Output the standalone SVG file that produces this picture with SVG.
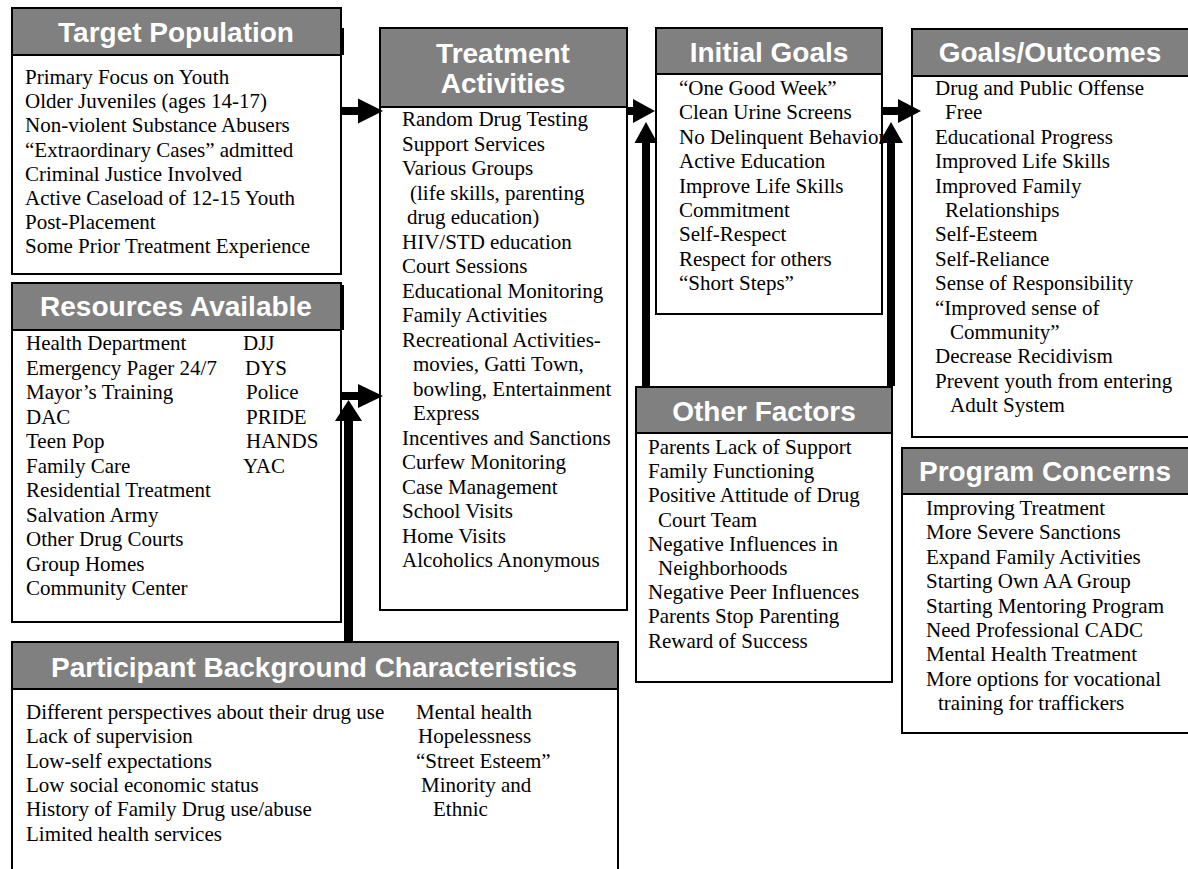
<svg xmlns="http://www.w3.org/2000/svg" width="1188" height="869" viewBox="0 0 1188 869">
<style>
.box{fill:#fff;stroke:#000;stroke-width:2}
.hdr{fill:#808080;stroke:#000;stroke-width:2}
.shd{fill:#000;stroke:none}
.ht{font-family:"Liberation Sans",Arial,sans-serif;font-weight:bold;font-size:28px;fill:#fff;text-anchor:middle}
.bt{font-family:"Liberation Serif","Times New Roman",serif;font-size:21px;fill:#000}
.arr{fill:#000;stroke:none}
</style>
<rect width="1188" height="869" fill="#fff"/>
<g id="target-population">
<rect class="box" x="12" y="8" width="329" height="266"/>
<rect class="hdr" x="12" y="8" width="329" height="47"/>
<rect class="shd" x="341" y="28" width="3" height="27"/>
<text class="ht" x="176" y="42">Target Population</text>
<text class="bt" x="25" y="84"><tspan x="25">Primary Focus on Youth</tspan><tspan x="25" dy="24.2">Older Juveniles (ages 14-17)</tspan><tspan x="25" dy="24.2">Non-violent Substance Abusers</tspan><tspan x="25" dy="24.2">“Extraordinary Cases” admitted</tspan><tspan x="25" dy="24.2">Criminal Justice Involved</tspan><tspan x="25" dy="24.2">Active Caseload of 12-15 Youth</tspan><tspan x="25" dy="24.2">Post-Placement</tspan><tspan x="25" dy="24.2">Some Prior Treatment Experience</tspan></text>
</g>
<g id="resources-available">
<rect class="box" x="12" y="283" width="329" height="339"/>
<rect class="hdr" x="12" y="283" width="329" height="47"/>
<rect class="shd" x="341" y="285" width="3" height="45"/>
<text class="ht" x="176" y="316">Resources Available</text>
<text class="bt" x="26" y="350"><tspan x="26">Health Department</tspan><tspan x="26" dy="24.5">Emergency Pager 24/7</tspan><tspan x="26" dy="24.5">Mayor’s Training</tspan><tspan x="26" dy="24.5">DAC</tspan><tspan x="26" dy="24.5">Teen Pop</tspan><tspan x="26" dy="24.5">Family Care</tspan><tspan x="26" dy="24.5">Residential Treatment</tspan><tspan x="26" dy="24.5">Salvation Army</tspan><tspan x="26" dy="24.5">Other Drug Courts</tspan><tspan x="26" dy="24.5">Group Homes</tspan><tspan x="26" dy="24.5">Community Center</tspan></text>
<text class="bt" x="244" y="350"><tspan x="243">DJJ</tspan><tspan x="245" dy="24.5">DYS</tspan><tspan x="246" dy="24.5">Police</tspan><tspan x="246" dy="24.5">PRIDE</tspan><tspan x="246" dy="24.5">HANDS</tspan><tspan x="243" dy="24.5">YAC</tspan></text>
</g>
<g id="treatment-activities">
<rect class="box" x="380" y="28" width="247" height="582"/>
<rect class="hdr" x="380" y="28" width="247" height="79"/>
<text class="ht" x="503" y="63">Treatment</text>
<text class="ht" x="503" y="93">Activities</text>
<text class="bt" x="402" y="126"><tspan x="402">Random Drug Testing</tspan><tspan x="402" dy="24.5">Support Services</tspan><tspan x="402" dy="24.5">Various Groups</tspan><tspan x="410" dy="24.5">(life skills,  parenting</tspan><tspan x="407" dy="24.5">drug education)</tspan><tspan x="402" dy="24.5">HIV/STD education</tspan><tspan x="402" dy="24.5">Court Sessions</tspan><tspan x="402" dy="24.5">Educational Monitoring</tspan><tspan x="402" dy="24.5">Family Activities</tspan><tspan x="402" dy="24.5">Recreational Activities-</tspan><tspan x="413" dy="24.5">movies, Gatti Town,</tspan><tspan x="413" dy="24.5">bowling, Entertainment</tspan><tspan x="413" dy="24.5">Express</tspan><tspan x="402" dy="24.5">Incentives and Sanctions</tspan><tspan x="402" dy="24.5">Curfew Monitoring</tspan><tspan x="402" dy="24.5">Case Management</tspan><tspan x="402" dy="24.5">School Visits</tspan><tspan x="402" dy="24.5">Home Visits</tspan><tspan x="402" dy="24.5">Alcoholics Anonymous</tspan></text>
</g>
<g id="initial-goals">
<rect class="box" x="656" y="28" width="226" height="286"/>
<rect class="hdr" x="656" y="28" width="226" height="46"/>
<text class="ht" x="769" y="62">Initial Goals</text>
<text class="bt" x="679" y="95"><tspan x="679">“One Good Week”</tspan><tspan x="679" dy="24.4">Clean Urine Screens</tspan><tspan x="679" dy="24.4">No Delinquent Behavior</tspan><tspan x="679" dy="24.4">Active Education</tspan><tspan x="679" dy="24.4">Improve Life Skills</tspan><tspan x="679" dy="24.4">Commitment</tspan><tspan x="679" dy="24.4">Self-Respect</tspan><tspan x="679" dy="24.4">Respect for others</tspan><tspan x="679" dy="24.4">“Short Steps”</tspan></text>
</g>
<g id="goals-outcomes">
<rect class="box" x="912" y="29" width="290" height="408"/>
<rect class="hdr" x="912" y="29" width="290" height="47"/>
<text class="ht" x="1050" y="62">Goals/Outcomes</text>
<text class="bt" x="935" y="95"><tspan x="935">Drug and Public Offense</tspan><tspan x="945" dy="24.4">Free</tspan><tspan x="935" dy="24.4">Educational Progress</tspan><tspan x="935" dy="24.4">Improved Life Skills</tspan><tspan x="935" dy="24.4">Improved Family</tspan><tspan x="945" dy="24.4">Relationships</tspan><tspan x="935" dy="24.4">Self-Esteem</tspan><tspan x="935" dy="24.4">Self-Reliance</tspan><tspan x="935" dy="24.4">Sense of Responsibility</tspan><tspan x="935" dy="24.4">“Improved sense of</tspan><tspan x="950" dy="24.4">Community”</tspan><tspan x="935" dy="24.4">Decrease Recidivism</tspan><tspan x="935" dy="24.4">Prevent youth from entering</tspan><tspan x="950" dy="24.4">Adult System</tspan></text>
</g>
<g id="other-factors">
<rect class="box" x="636" y="387" width="256" height="295"/>
<rect class="hdr" x="636" y="387" width="256" height="46"/>
<text class="ht" x="764" y="421">Other Factors</text>
<text class="bt" x="648" y="454"><tspan x="648">Parents Lack of Support</tspan><tspan x="648" dy="24.2">Family Functioning</tspan><tspan x="648" dy="24.2">Positive Attitude of Drug</tspan><tspan x="658" dy="24.2">Court Team</tspan><tspan x="648" dy="24.2">Negative Influences in</tspan><tspan x="658" dy="24.2">Neighborhoods</tspan><tspan x="648" dy="24.2">Negative Peer Influences</tspan><tspan x="648" dy="24.2">Parents Stop Parenting</tspan><tspan x="648" dy="24.2">Reward of Success</tspan></text>
</g>
<g id="program-concerns">
<rect class="box" x="902" y="448" width="300" height="285"/>
<rect class="hdr" x="902" y="448" width="300" height="46"/>
<text class="ht" x="1045" y="481">Program Concerns</text>
<text class="bt" x="926" y="515"><tspan x="926">Improving Treatment</tspan><tspan x="926" dy="24.4">More Severe Sanctions</tspan><tspan x="926" dy="24.4">Expand Family Activities</tspan><tspan x="926" dy="24.4">Starting Own AA Group</tspan><tspan x="926" dy="24.4">Starting Mentoring Program</tspan><tspan x="926" dy="24.4">Need Professional CADC</tspan><tspan x="926" dy="24.4">Mental Health Treatment</tspan><tspan x="926" dy="24.4">More options for vocational</tspan><tspan x="938" dy="24.4">training for traffickers</tspan></text>
</g>
<g id="participant-background">
<rect class="box" x="12" y="642" width="606" height="240"/>
<rect class="hdr" x="12" y="642" width="606" height="47"/>
<text class="ht" x="314" y="677">Participant Background Characteristics</text>
<text class="bt" x="26" y="719"><tspan x="26">Different perspectives about their drug use</tspan><tspan x="26" dy="24.3">Lack of supervision</tspan><tspan x="26" dy="24.3">Low-self expectations</tspan><tspan x="26" dy="24.3">Low social economic status</tspan><tspan x="26" dy="24.3">History of Family Drug use/abuse</tspan><tspan x="26" dy="24.3">Limited health services</tspan></text>
<text class="bt" x="416" y="719"><tspan x="416">Mental health</tspan><tspan x="418" dy="24.3">Hopelessness</tspan><tspan x="416" dy="24.3">“Street Esteem”</tspan><tspan x="421" dy="24.3">Minority and</tspan><tspan x="433" dy="24.3">Ethnic</tspan></text>
</g>
<g id="connectors">
<path class="arr" d="M341,107 H358 V98.5 L383,111 L358,123.5 V115 H341 Z"/>
<path class="arr" d="M341,392 H358 V384 L383,396 L358,408 V400 H341 Z"/>
<path class="arr" d="M344,642 V421 H335 L348.5,400 L362,421 H353 V642 Z"/>
<path class="arr" d="M627,107 H633 V99 L655,111 L633,123 V115 H627 Z"/>
<path class="arr" d="M642,386 V143 H634.5 L646,122 L657.5,143 H650 V386 Z"/>
<path class="arr" d="M882,107 H898 V99 L921,111 L898,123 V115 H882 Z"/>
<path class="arr" d="M887,386 V143 H879 L891,122 L903,143 H895 V386 Z"/>
</g>
</svg>
